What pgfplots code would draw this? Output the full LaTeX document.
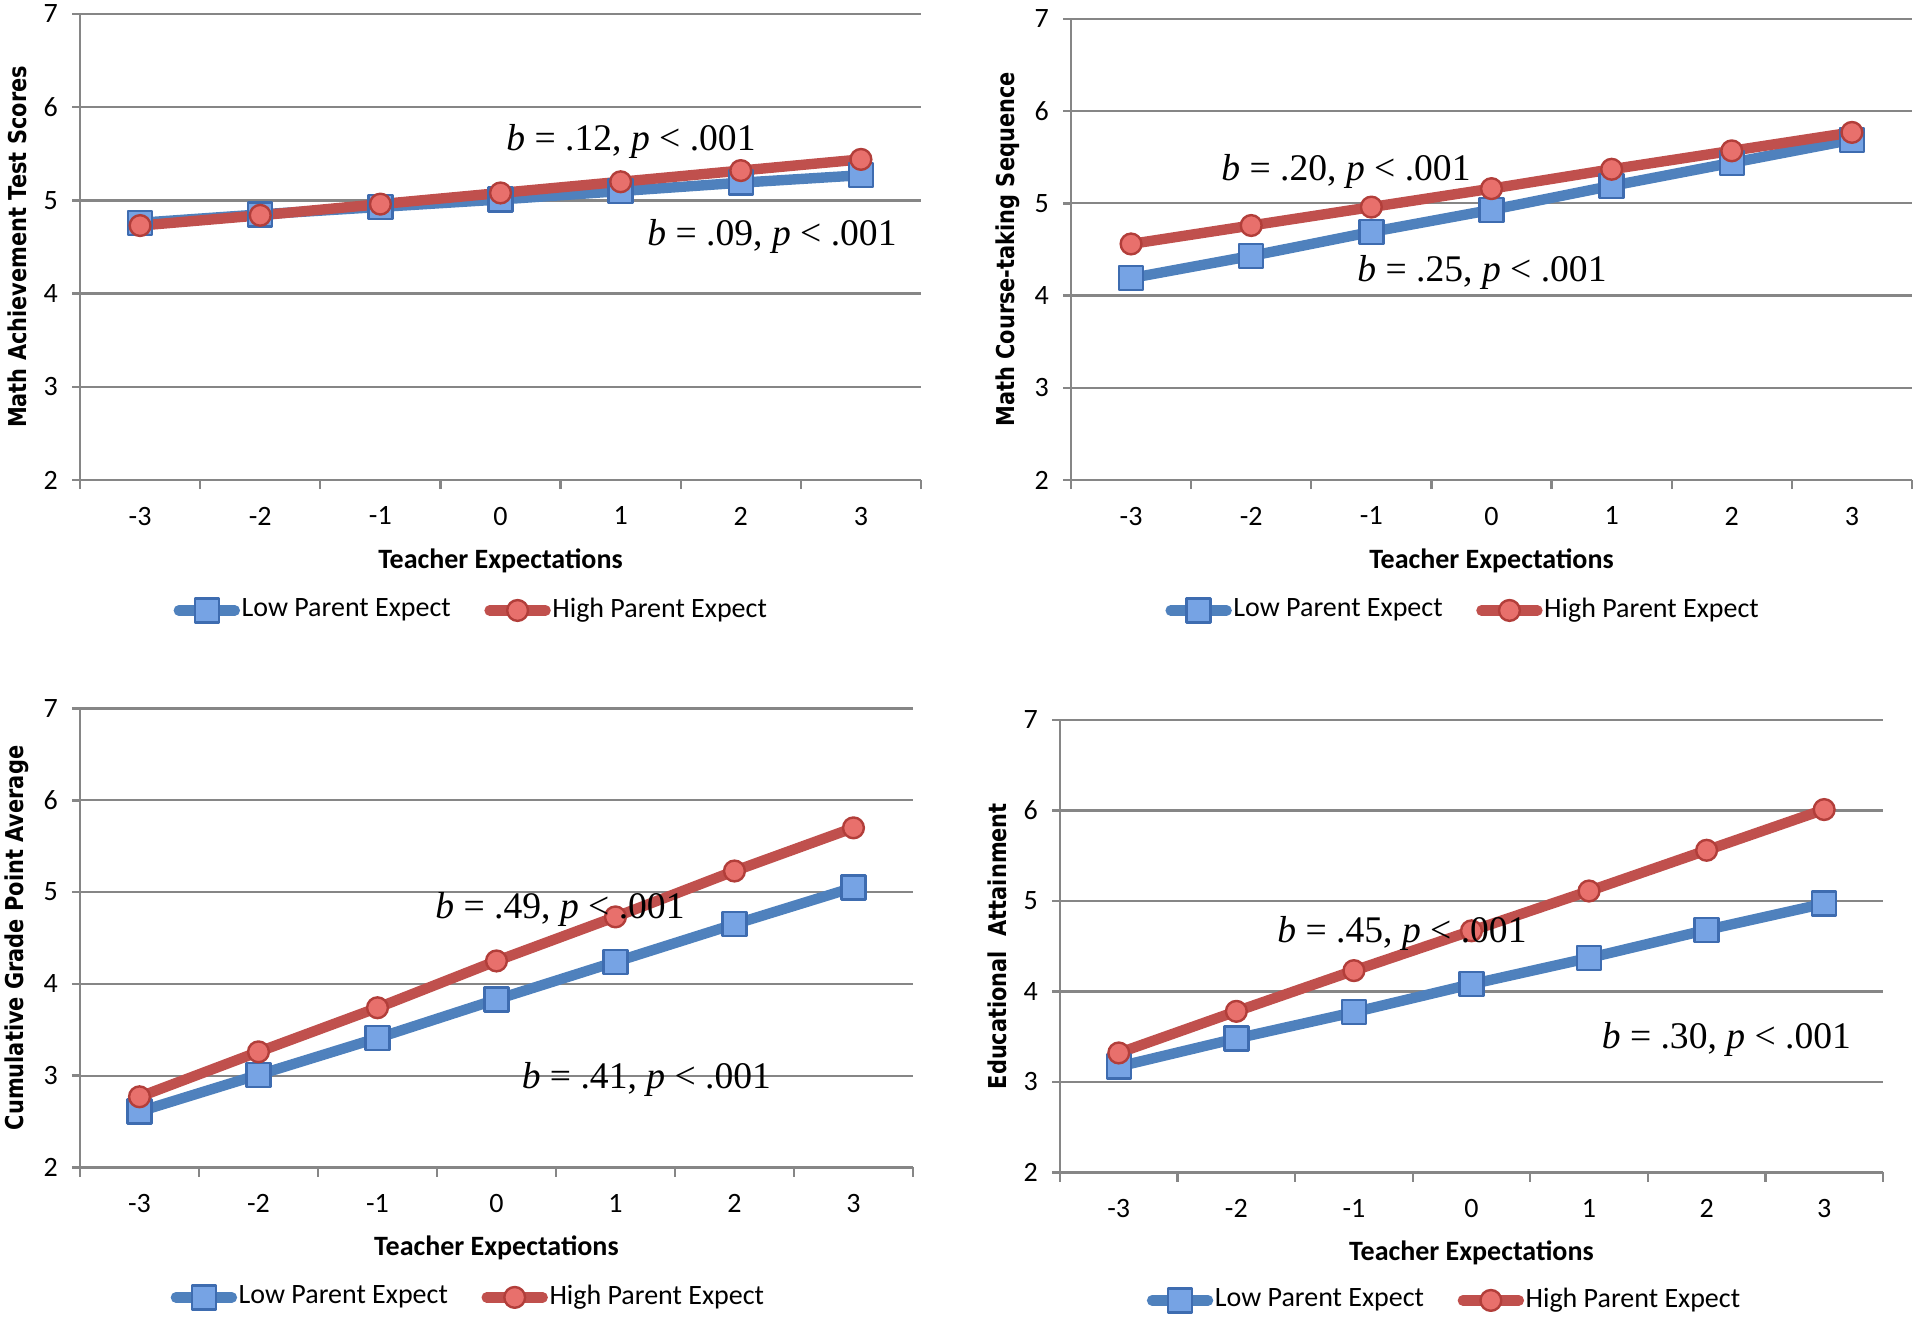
\documentclass[border=0pt]{standalone}
\usepackage{pgfplots}
\pgfplotsset{compat=1.18}
\usepackage{fontspec}
\setmainfont{Carlito}
\newfontfamily\ylabfont[FakeStretch=0.85]{DejaVu Sans}
\newfontfamily\annfont{Liberation Serif}
\definecolor{gridgray}{RGB}{134,134,134}
\definecolor{lineblue}{RGB}{79,129,189}
\definecolor{linered}{RGB}{192,80,77}
\definecolor{mkblue}{RGB}{118,163,228}
\definecolor{mkblueb}{RGB}{62,108,176}
\definecolor{mkred}{RGB}{232,112,108}
\definecolor{mkredb}{RGB}{178,62,58}
\pgfplotsset{
  panel/.style={
    scale only axis,
    xmin=-3.5, xmax=3.5, ymin=2, ymax=7,
    axis x line*=bottom, axis y line*=left,
    axis line style={-, draw=gridgray, line width=0.6pt},
    xtick={-3,...,3}, xticklabels={-3,-2,-1,0,1,2,3},
    minor xtick={-3.5,-2.5,...,3.5},
    ytick={2,...,7}, yticklabels={2,3,4,5,6,7},
    ymajorgrids, grid style={draw=gridgray, line width=0.55pt},
    tick align=outside,
    major tick length=2pt, minor tick length=2.3pt,
    xtick style={draw=none},
    minor x tick style={draw=gridgray, line width=0.6pt},
    ytick style={draw=gridgray, line width=0.6pt},
    tick label style={font=\fontsize{7}{8}\selectfont, text=black},
    xticklabel style={yshift=-1.2pt},
    /pgf/number format/assume math mode=true,
    xlabel={Teacher Expectations},
    xlabel style={font=\bfseries\fontsize{7}{8}\selectfont, at={([yshift=-20.1pt]axis description cs:0.5,0)}, anchor=center},
    ylabel style={font=\ylabfont\bfseries\fontsize{6.15}{7}\selectfont, at={([xshift=-15.75pt]axis description cs:0,0.5)}, anchor=center},
    legend columns=2,
    legend style={draw=none, fill=none, anchor=center, font=\fontsize{7}{8}\selectfont,
      /tikz/every even column/.append style={column sep=8pt},
      nodes={inner xsep=0.4pt, inner ysep=1pt}},
    legend cell align=left,
    legend image code/.code={
      \draw[mark repeat=2,mark phase=2] plot coordinates {(0pt,0pt) (7pt,0pt) (14pt,0pt)};
    },
  },
  lowser/.style={lineblue, line width=2.6pt, line cap=round, line join=round,
    mark=square*, mark size=3pt,
    mark options={fill=mkblue, draw=mkblueb, line width=0.6pt, solid}},
  highser/.style={linered, line width=2.6pt, line cap=round, line join=round,
    mark=*, mark size=2.6pt,
    mark options={fill=mkred, draw=mkredb, line width=0.6pt, solid}},
}
\newcommand{\ann}[2]{\node[font=\annfont\fontsize{9.4}{10}\selectfont, inner sep=0pt, anchor=center, yshift=-0.75pt] at (#1) {#2};}
\begin{document}
\begin{tikzpicture}
% Panel 1
\begin{axis}[panel, at={(20pt,209.25pt)}, anchor=south west, width=210.25pt, height=116.5pt,
  ylabel={Math Achievement Test Scores}, legend style={at={(0.465,-0.280)}}]
\addplot[lowser] coordinates {(-3,4.76) (-2,4.85) (-1,4.93) (0,5.01) (1,5.10) (2,5.19) (3,5.27)};
\addplot[highser] coordinates {(-3,4.73) (-2,4.84) (-1,4.96) (0,5.08) (1,5.20) (2,5.32) (3,5.44)};
\legend{Low Parent Expect, High Parent Expect}
\end{axis}
% Panel 2
\begin{axis}[panel, at={(267.75pt,209.25pt)}, anchor=south west, width=210.25pt, height=115.25pt,
  ylabel={Math Course-taking Sequence}, legend style={at={(0.466,-0.283)}}]
\addplot[lowser] coordinates {(-3,4.19) (-2,4.43) (-1,4.69) (0,4.93) (1,5.19) (2,5.44) (3,5.69)};
\addplot[highser] coordinates {(-3,4.56) (-2,4.76) (-1,4.96) (0,5.16) (1,5.37) (2,5.57) (3,5.77)};
\legend{Low Parent Expect, High Parent Expect}
\end{axis}
% Panel 3
\begin{axis}[panel, at={(20pt,37.375pt)}, anchor=south west, width=208.25pt, height=114.75pt,
  ylabel={Cumulative Grade Point Average}, legend style={at={(0.466,-0.283)}}]
\addplot[lowser] coordinates {(-3,2.61) (-2,3.01) (-1,3.41) (0,3.83) (1,4.24) (2,4.65) (3,5.05)};
\addplot[highser] coordinates {(-3,2.77) (-2,3.26) (-1,3.74) (0,4.25) (1,4.73) (2,5.23) (3,5.70)};
\legend{Low Parent Expect, High Parent Expect}
\end{axis}
% Panel 4
\begin{axis}[panel, at={(265pt,36.15pt)}, anchor=south west, width=205.75pt, height=113.1pt,
  ylabel={Educational\ \ Attainment}, legend style={at={(0.467,-0.283)}}]
\addplot[lowser] coordinates {(-3,3.17) (-2,3.48) (-1,3.77) (0,4.08) (1,4.37) (2,4.68) (3,4.97)};
\addplot[highser] coordinates {(-3,3.32) (-2,3.78) (-1,4.23) (0,4.67) (1,5.11) (2,5.56) (3,6.01)};
\legend{Low Parent Expect, High Parent Expect}
\end{axis}
\ann{157.75pt,294.75pt}{\textit{b} = .12, \textit{p} < .001}
\ann{193pt,271pt}{\textit{b} = .09, \textit{p} < .001}
\ann{336.5pt,287.25pt}{\textit{b} = .20, \textit{p} < .001}
\ann{370.5pt,262pt}{\textit{b} = .25, \textit{p} < .001}
\ann{140pt,102.75pt}{\textit{b} = .49, \textit{p} < .001}
\ann{161.6pt,60.25pt}{\textit{b} = .41, \textit{p} < .001}
\ann{350.5pt,96.6pt}{\textit{b} = .45, \textit{p} < .001}
\ann{431.6pt,70.25pt}{\textit{b} = .30, \textit{p} < .001}
\pgfresetboundingbox
\path[use as bounding box] (0pt,0pt) rectangle (480pt,329.25pt);
\end{tikzpicture}
\end{document}
